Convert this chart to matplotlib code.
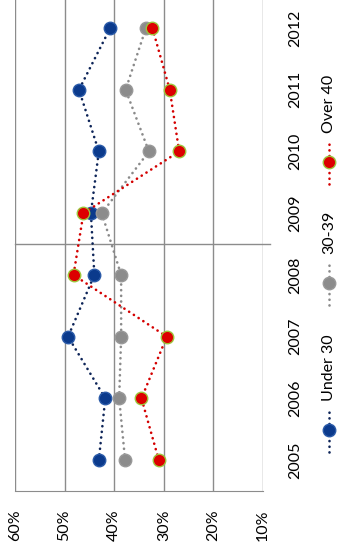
import matplotlib
matplotlib.use("Agg")
import matplotlib.pyplot as plt
from matplotlib.lines import Line2D

plt.rcParams['font.family'] = ['Lato', 'DejaVu Sans']

years = [2005, 2006, 2007, 2008, 2009, 2010, 2011, 2012]
under30 = [0.431, 0.418, 0.493, 0.440, 0.447, 0.431, 0.471, 0.408]
age30_39 = [0.378, 0.390, 0.386, 0.386, 0.425, 0.330, 0.377, 0.336]
over40 = [0.310, 0.345, 0.294, 0.482, 0.462, 0.269, 0.288, 0.323]
pct_ticks = [0.6, 0.5, 0.4, 0.3, 0.2, 0.1]
pct_labels = ["60%", "50%", "40%", "30%", "20%", "10%"]

series = [
    ("Under 30", under30, "#0d2458", "#0b3a8c", "#2a5aa8"),
    ("30-39", age30_39, "#8a8a8a", "#8c8c8c", "#999999"),
    ("Over 40", over40, "#d40000", "#dd0000", "#9cc63c"),
]

fig = plt.figure(figsize=(3.41, 5.54), dpi=100)
ax = fig.add_axes([15 / 341, 63 / 554, 248 / 341, 491 / 554])

# chart is drawn turned on its side: years run upward, percent runs leftward
for name, vals, lc, fc, ec in series:
    ax.plot(vals, years, color=lc, lw=1.9, linestyle=(0, (0.05, 2.1)),
            dash_capstyle='round', marker='o', markersize=9,
            markerfacecolor=fc, markeredgecolor=ec, markeredgewidth=1.0,
            zorder=3)

ax.set_xlim(0.6, 0.1)
ax.set_ylim(2004.5, 2012.454)
ax.set_xticks(pct_ticks)
ax.set_xticklabels(pct_labels, rotation=90, fontsize=11.5)
ax.set_yticks(years)
ax.set_yticklabels([str(y) for y in years], rotation=90, fontsize=11.5,
                   va='center')
ax.yaxis.tick_right()
ax.tick_params(axis='x', length=0, pad=13)
ax.tick_params(axis='y', length=0, pad=18)
ax.grid(axis='x', color='#8c8c8c', lw=1.0)
ax.set_axisbelow(True)
for s in ['top', 'right', 'left']:
    ax.spines[s].set_visible(False)
ax.spines['bottom'].set_color('#8c8c8c')
ax.axhline(2008.5, xmin=0, xmax=1.03, color='#8c8c8c', lw=1.0, clip_on=False)

# legend, stacked vertically along the right edge
leg_x = 329 / 341
leg_y = [430, 283, 162]
for (name, vals, lc, fc, ec), py in zip(series, leg_y):
    yc = 1 - py / 554
    fig.add_artist(Line2D([leg_x, leg_x], [yc - 22 / 554, yc + 19 / 554],
                          transform=fig.transFigure, color=lc, lw=1.9,
                          linestyle=(0, (0.05, 2.1)), dash_capstyle='round'))
    fig.add_artist(Line2D([leg_x], [yc], transform=fig.transFigure,
                          marker='o', markersize=9, markerfacecolor=fc,
                          markeredgecolor=ec, markeredgewidth=1.0))
    fig.text(leg_x, yc + 29 / 554, name, rotation=90, fontsize=11.5,
             ha='center', va='bottom')

fig.savefig("out.png", dpi=100, facecolor='white')
